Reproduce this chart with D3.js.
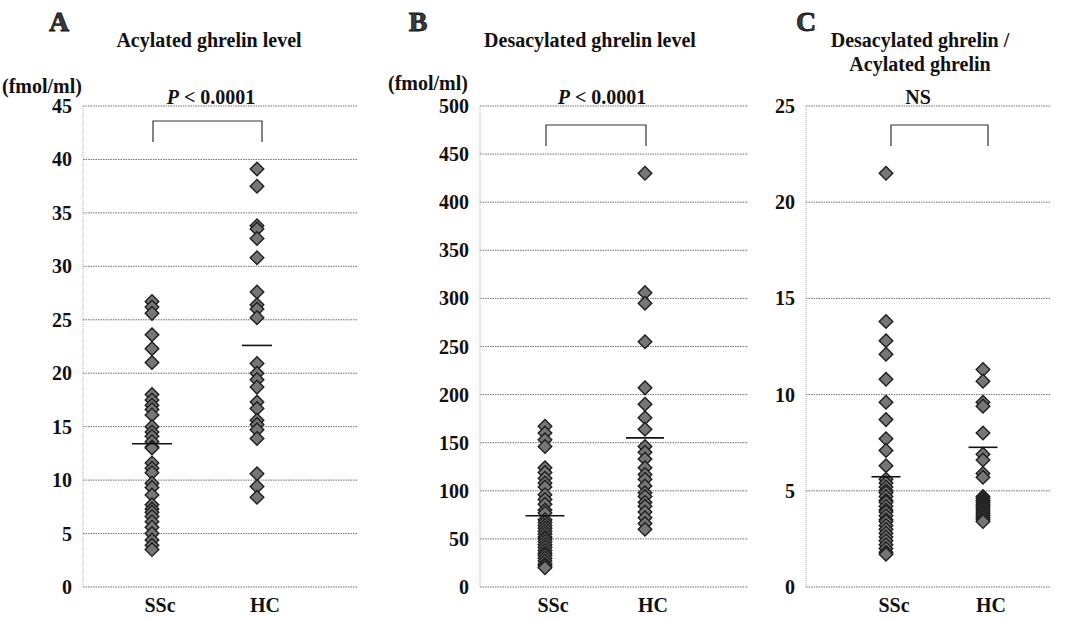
<!DOCTYPE html>
<html lang="en">

<head>
    <meta charset="UTF-8">
    <title>Ghrelin levels SSc vs HC</title>
    <style>
        * {
            margin: 0;
            padding: 0;
        }

        html,
        body {
            overflow: hidden;
            background: #fff;
        }

        text {
            font-family: "Liberation Serif", "Times New Roman", serif;
            font-weight: bold;
            fill: #111;
        }
    </style>
</head>

<body>
    <div id="chart"></div>
    <script src="https://cdn.jsdelivr.net/npm/d3@7"></script>
    <script>
        const categories = ['SSc', 'HC']

        // A: acylated ghrelin (fmol/ml)
        const acylSSc = [26.7, 26.2, 25.6, 23.6, 22.3, 21.0, 18.0, 17.5, 17.0, 16.6, 16.1,
            15.0, 14.5, 14.1, 13.6, 13.1, 13.0, 11.6, 11.1, 10.7, 9.7, 9.3, 8.6,
            7.7, 7.3, 7.0, 6.6, 6.1, 5.6, 5.0, 4.4, 3.9, 3.5]
        const acylHC = [39.1, 37.5, 33.8, 33.5, 32.6, 30.8, 27.6, 26.4, 26.0, 25.2,
            20.9, 20.0, 19.4, 18.7, 17.3, 16.7, 15.6, 15.2, 14.7, 13.9, 10.6, 9.4, 8.4]
        const acylMean = [13.4, 22.6]
        const acylTicks = [0, 5, 10, 15, 20, 25, 30, 35, 40, 45]

        // B: desacylated ghrelin (fmol/ml)
        const desSSc = [167, 160, 153, 146, 124, 119, 113, 108, 104, 96, 91, 86, 80, 77,
            70, 67, 64, 61, 58, 55, 52, 50, 47, 44, 41, 38, 35, 33, 30, 27, 24, 22, 20]
        const desHC = [430, 306, 295, 255, 207, 190, 176, 164, 146, 140, 133, 124, 117,
            112, 105, 98, 94, 88, 84, 78, 72, 66, 60]
        const desMean = [74, 155]
        const desTicks = [0, 50, 100, 150, 200, 250, 300, 350, 400, 450, 500]

        // C: desacylated / acylated ratio
        const ratioSSc = [21.5, 13.8, 12.8, 12.1, 10.8, 9.6, 8.7, 7.7, 7.1, 6.3,
            5.6, 5.4, 5.2, 5.0, 4.9, 4.7, 4.5, 4.4, 4.2, 4.0, 3.9, 3.7, 3.5, 3.4,
            3.2, 3.0, 2.8, 2.6, 2.4, 2.2, 2.0, 1.8, 1.7]
        const ratioHC = [11.3, 10.7, 9.6, 9.4, 8.0, 6.9, 6.6, 5.9, 5.7, 4.7, 4.6, 4.5,
            4.4, 4.3, 4.2, 4.1, 4.0, 3.9, 3.8, 3.7, 3.6, 3.5, 3.4]
        const ratioMean = [5.73, 7.26]
        const ratioTicks = [0, 5, 10, 15, 20, 25]

        function drawChart() {
            const width = 1081
            const height = 618
            const svg = d3.select('#chart')
                .append('svg')
                .attr('width', width)
                .attr('height', height)
                .style('background', '#fff')

            const yTop = 106
            const yBottom = 587

            const panels = [
                {
                    letter: 'A', letterX: 59, title: ['Acylated ghrelin level'], titleX: 209,
                    unit: '(fmol/ml)', unitX: 2, unitY: 93,
                    x0: 83, x1: 358, ptX: [152, 257], brX: [153, 262], brY: 121,
                    sig: 'P', sigX: 211, meanW: [40, 30],
                    series: [acylSSc, acylHC], mean: acylMean, ticks: acylTicks
                },
                {
                    letter: 'B', letterX: 418, title: ['Desacylated ghrelin level'], titleX: 590,
                    unit: '(fmol/ml)', unitX: 388, unitY: 90,
                    x0: 480, x1: 748, ptX: [545, 645], brX: [546, 646], brY: 125,
                    sig: 'P', sigX: 602, meanW: [39, 38],
                    series: [desSSc, desHC], mean: desMean, ticks: desTicks
                },
                {
                    letter: 'C', letterX: 806, title: ['Desacylated ghrelin /', 'Acylated ghrelin'], titleX: 920,
                    unit: null,
                    x0: 806, x1: 1050, ptX: [886, 983], brX: [891, 988], brY: 125,
                    sig: 'NS', sigX: 918, meanW: [29, 29],
                    series: [ratioSSc, ratioHC], mean: ratioMean, ticks: ratioTicks
                }
            ]

            const diamond = d3.symbol(d3.symbolSquare, 92)

            panels.forEach(p => {
                const g = svg.append('g')
                const y = d3.scaleLinear()
                    .domain([0, d3.max(p.ticks)])
                    .range([yBottom, yTop])
                const x = d3.scaleOrdinal()
                    .domain(categories)
                    .range(p.ptX)

                // gridlines
                g.selectAll('.grid')
                    .data(p.ticks)
                    .join('line')
                    .attr('x1', p.x0)
                    .attr('x2', p.x1)
                    .attr('y1', d => y(d))
                    .attr('y2', d => y(d))
                    .attr('stroke', '#6e6e6e')
                    .attr('stroke-width', 1)
                    .attr('stroke-dasharray', '1.5,1')

                // y axis line
                g.append('line')
                    .attr('x1', p.x0)
                    .attr('x2', p.x0)
                    .attr('y1', y(0))
                    .attr('y2', y(d3.max(p.ticks)))
                    .attr('stroke', '#b0b0b0')
                    .attr('stroke-dasharray', '1,1')

                // tick labels
                g.selectAll('.tick')
                    .data(p.ticks)
                    .join('text')
                    .attr('x', p.x0 - 11)
                    .attr('y', d => y(d))
                    .attr('dy', '0.35em')
                    .attr('text-anchor', 'end')
                    .style('font-size', '20px')
                    .text(d => d)

                // category labels
                g.selectAll('.cat')
                    .data(categories)
                    .join('text')
                    .attr('x', d => x(d) + 8)
                    .attr('y', 612)
                    .attr('text-anchor', 'middle')
                    .style('font-size', '20px')
                    .text(d => d)

                // headers
                g.append('text')
                    .attr('x', p.letterX)
                    .attr('y', 31)
                    .attr('text-anchor', 'middle')
                    .style('font-size', '28px')
                    .style('fill', '#3a3a3a')
                    .style('stroke', '#111')
                    .style('stroke-width', 0.8)
                    .text(p.letter)

                p.title.forEach((t, i) => {
                    g.append('text')
                        .attr('x', p.titleX)
                        .attr('y', 47 + i * 24)
                        .attr('text-anchor', 'middle')
                        .style('font-size', '20px')
                        .text(t)
                })

                if (p.unit) {
                    g.append('text')
                        .attr('x', p.unitX)
                        .attr('y', p.unitY)
                        .style('font-size', '20px')
                        .text(p.unit)
                }

                const sig = g.append('text')
                    .attr('x', p.sigX)
                    .attr('y', 104)
                    .attr('text-anchor', 'middle')
                    .style('font-size', '20px')
                if (p.sig === 'P') {
                    sig.append('tspan').style('font-style', 'italic').text('P')
                    sig.append('tspan').text(' < 0.0001')
                } else {
                    sig.text(p.sig)
                }

                // bracket
                g.append('path')
                    .attr('d', `M${p.brX[0]},${p.brY + 21}V${p.brY}H${p.brX[1]}V${p.brY + 21}`)
                    .attr('fill', 'none')
                    .attr('stroke', '#333')
                    .attr('stroke-width', 1.2)

                // points
                categories.forEach((c, ci) => {
                    g.selectAll('.pt-' + c)
                        .data(p.series[ci])
                        .join('path')
                        .attr('d', diamond)
                        .attr('transform', d => `translate(${x(c)},${y(d)}) rotate(45)`)
                        .attr('fill', '#767676')
                        .attr('stroke', '#1e1e1e')
                        .attr('stroke-width', 1.4)
                })

                // mean lines
                g.selectAll('.mean')
                    .data(p.mean)
                    .join('line')
                    .attr('x1', (d, i) => x(categories[i]) - p.meanW[i] / 2)
                    .attr('x2', (d, i) => x(categories[i]) + p.meanW[i] / 2)
                    .attr('y1', d => y(d))
                    .attr('y2', d => y(d))
                    .attr('stroke', '#111')
                    .attr('stroke-width', 1.6)
            })
        }

        drawChart()
    </script>
</body>

</html>
